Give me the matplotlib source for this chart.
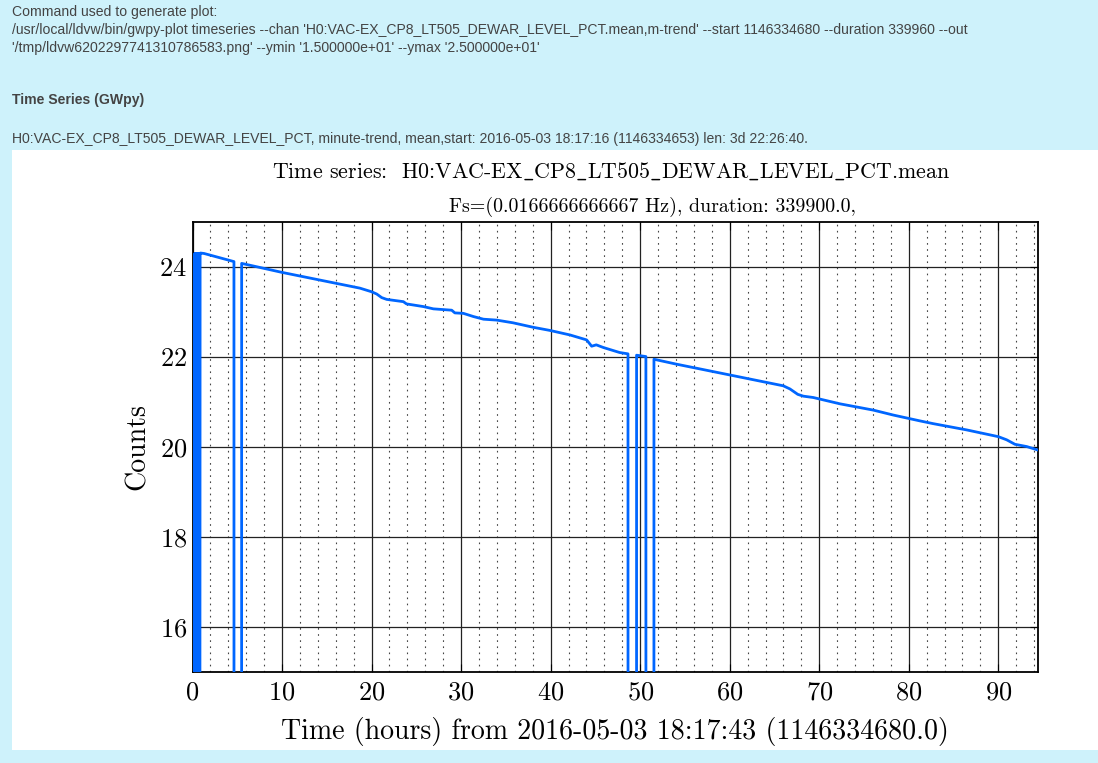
"""Minute-trend dewar level time series, redrawn in the gwpy-plot / ldvw page layout."""
import numpy as np
import matplotlib
matplotlib.use("Agg")
import matplotlib.pyplot as plt
from matplotlib.patches import Rectangle
from matplotlib.ticker import MultipleLocator

W, H = 1098, 763

# hours from start, dewar level (%); 0 marks data dropouts (clipped below ymin)
HOURS = [
    0.22, 0.25, 0.30, 0.35, 0.40, 0.45, 0.50, 0.55, 0.60, 0.65, 0.70, 0.75, 0.80, 0.85, 0.90,
    1.30, 4.63, 4.64, 5.48, 5.49,
    10.0, 18.7, 20.0, 20.57, 21.13, 21.69, 22.8, 23.55, 23.9, 25.8, 26.9, 28.95, 29.3,
    30.25, 31.36, 32.5, 33.97, 35.8, 38.06, 39.93, 42.16, 44.02, 44.58, 45.1, 45.9,
    47.7, 48.64, 48.65, 49.59, 49.6, 50.64, 50.65, 51.53, 51.54,
    54.07, 60.03, 65.98, 66.73, 67.6, 68.22, 69.33, 72.3, 76.03, 78.27, 81.25, 82.7, 86.46,
    90.0, 90.93, 91.86, 93.17, 94.46,
]
LEVEL = [
    0.0, 24.30, 0.0, 24.30, 0.0, 24.30, 0.0, 24.30, 0.0, 24.30, 0.0, 24.30, 0.0, 24.30, 24.31,
    24.30, 24.12, 0.0, 0.0, 24.08,
    23.88, 23.53, 23.45, 23.40, 23.32, 23.28, 23.25, 23.23, 23.18, 23.12, 23.07, 23.04, 22.98,
    22.97, 22.90, 22.84, 22.82, 22.76, 22.66, 22.59, 22.49, 22.38, 22.24, 22.27, 22.21,
    22.10, 22.07, 0.0, 0.0, 22.04, 22.01, 0.0, 0.0, 21.95,
    21.84, 21.60, 21.36, 21.29, 21.17, 21.13, 21.10, 20.96, 20.82, 20.71, 20.58, 20.52, 20.38,
    20.23, 20.16, 20.06, 20.01, 19.93,
]

HEADER_LINES = [
    (12, "Command used to generate plot:", "normal"),
    (30, "/usr/local/ldvw/bin/gwpy-plot timeseries --chan 'H0:VAC-EX_CP8_LT505_DEWAR_LEVEL_PCT.mean,m-trend' "
         "--start 1146334680 --duration 339960 --out", "normal"),
    (48, "'/tmp/ldvw6202297741310786583.png' --ymin '1.500000e+01' --ymax '2.500000e+01'", "normal"),
    (100, "Time Series (GWpy)", "bold"),
    (139, "H0:VAC-EX_CP8_LT505_DEWAR_LEVEL_PCT, minute-trend, mean,start: 2016-05-03 18:17:16 (1146334653) "
          "len: 3d 22:26:40.", "normal"),
]

BG = "#cef2fb"
LINE_COLOUR = "#0066ff"

plt.rcParams["font.family"] = "cmr10"
plt.rcParams["mathtext.fontset"] = "cm"
plt.rcParams["axes.formatter.use_mathtext"] = True


def fx(px):
    return px / W


def fy(py):
    return 1 - py / H


def main():
    fig = plt.figure(figsize=(W / 100, H / 100), dpi=100, facecolor=BG)

    # white panel behind the plot image
    fig.patches.append(Rectangle((fx(12), fy(750)), fx(W) - fx(12), fy(150) - fy(750),
                                 transform=fig.transFigure, facecolor="white", edgecolor="none", zorder=-5))

    for ypix, txt, weight in HEADER_LINES:
        fig.text(fx(12), fy(ypix), txt, family="Liberation Sans", fontsize=10.1, color="#444444",
                 weight=weight, va="center", ha="left")

    ax = fig.add_axes([fx(192.5), fy(672), fx(1038) - fx(192.5), fy(222) - fy(672)])
    ax.plot(HOURS, LEVEL, color=LINE_COLOUR, linewidth=2.0, zorder=3)

    ax.set_xlim(0, 339960 / 3600)
    ax.set_ylim(15, 25)
    ax.xaxis.set_major_locator(MultipleLocator(10))
    ax.xaxis.set_minor_locator(MultipleLocator(2))
    ax.yaxis.set_major_locator(MultipleLocator(2))

    ax.grid(which="major", color="#222222", linestyle="-", linewidth=0.9)
    ax.grid(which="minor", axis="x", color="#444444", linestyle=(0, (1.5, 4)), linewidth=0.8)
    ax.tick_params(which="both", direction="in", top=True, right=True, labelsize=19)
    ax.tick_params(which="major", length=6, pad=6)
    ax.tick_params(axis="y", which="major", pad=4)
    ax.tick_params(which="minor", length=0)
    for sp in ax.spines.values():
        sp.set_linewidth(1.3)

    ax.set_xlabel("Time (hours) from 2016-05-03 18:17:43 (1146334680.0)", fontsize=20.1, labelpad=9)
    ax.set_ylabel("Counts", fontsize=20.1, labelpad=6)

    fig.text(fx(611), fy(171), r"Time series:  H0:VAC-EX$\_$CP8$\_$LT505$\_$DEWAR$\_$LEVEL$\_$PCT.mean",
             fontsize=15.8, ha="center", va="center")
    fig.text(fx(652), fy(207), "Fs=(0.0166666666667 Hz), duration: 339900.0,",
             fontsize=14.4, ha="center", va="center")

    fig.savefig("out.png", dpi=100, facecolor=BG)


if __name__ == "__main__":
    main()
